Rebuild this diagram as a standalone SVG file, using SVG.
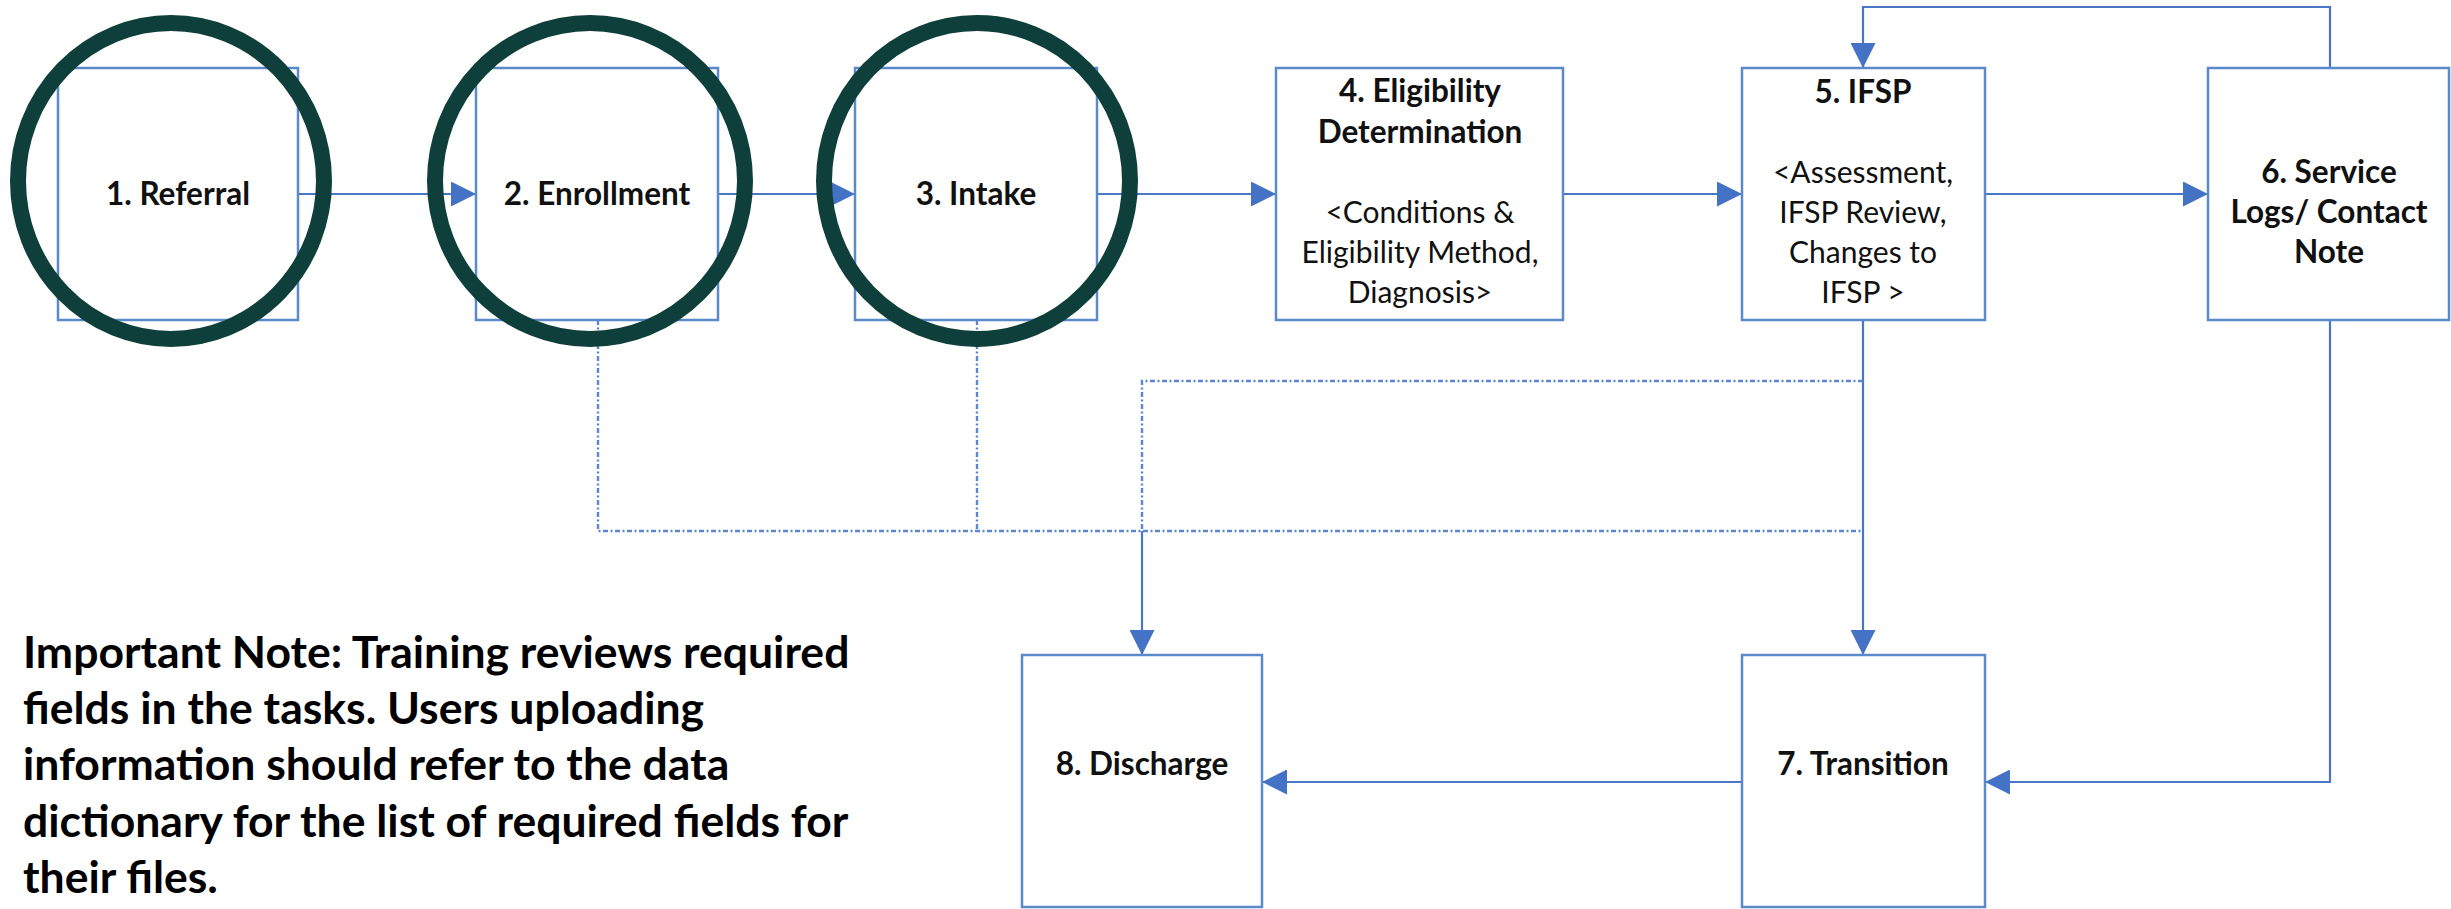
<svg xmlns="http://www.w3.org/2000/svg" width="2451" height="909" viewBox="0 0 2451 909">
<style>
.box{fill:#fff;stroke:#5B8ACB;stroke-width:2.5}
.t{font-family:Lato,"Open Sans","Liberation Sans",sans-serif;font-size:30px;fill:#111;text-anchor:middle}
.b{font-weight:bold;font-size:31.5px}
.con{fill:none;stroke:#4A76C6;stroke-width:2.2}
.dot{fill:none;stroke:#5B86CF;stroke-width:2.4;stroke-dasharray:5 2.5 2 2.5}
.ring{fill:none;stroke:#0F3F3A;stroke-width:16}
.note{font-family:Lato,"Open Sans","Liberation Sans",sans-serif;font-size:44.5px;font-weight:bold;fill:#000}
</style>
<defs>
<marker id="ah" markerUnits="userSpaceOnUse" markerWidth="25" markerHeight="25" refX="25" refY="12.5" orient="auto" viewBox="0 0 25 25">
<path d="M0,0 L25,12.5 L0,25 z" fill="#4472C4"/>
</marker>
</defs>
<rect width="2451" height="909" fill="#fff"/>
<g id="connectors">
<path class="con" d="M298,194 H476" marker-end="url(#ah)"/>
<path class="con" d="M718,194 H855" marker-end="url(#ah)"/>
<path class="con" d="M1097,194 H1276" marker-end="url(#ah)"/>
<path class="con" d="M1563,194 H1742" marker-end="url(#ah)"/>
<path class="con" d="M1985,194 H2208" marker-end="url(#ah)"/>
<path class="con" d="M2330,68 V7 H1863 V68" marker-end="url(#ah)"/>
<path class="con" d="M1863,320 V655" marker-end="url(#ah)"/>
<path class="con" d="M2330,320 V782 H1985" marker-end="url(#ah)"/>
<path class="con" d="M1742,782 H1262" marker-end="url(#ah)"/>
<path class="dot" d="M598,320 V531 H1863"/>
<path class="dot" d="M977,320 V531"/>
<path class="dot" d="M1863,381 H1142 V531"/>
<path class="con" d="M1142,531 V655" marker-end="url(#ah)"/>
</g>
<g id="n1">
<rect class="box" x="58" y="68" width="240" height="252"/>
<text class="t b" x="178" y="205">1. Referral</text>
</g>
<g id="n2">
<rect class="box" x="476" y="68" width="242" height="252"/>
<text class="t b" x="597" y="205">2. Enrollment</text>
</g>
<g id="n3">
<rect class="box" x="855" y="68" width="242" height="252"/>
<text class="t b" x="976" y="205">3. Intake</text>
</g>
<g id="n4">
<rect class="box" x="1276" y="68" width="287" height="252"/>
<text class="t b" x="1420" y="102">4. Eligibility</text>
<text class="t b" x="1420" y="143">Determination</text>
<text class="t" x="1420" y="223">&lt;Conditions &amp;</text>
<text class="t" x="1420" y="263">Eligibility Method,</text>
<text class="t" x="1420" y="303">Diagnosis&gt;</text>
</g>
<g id="n5">
<rect class="box" x="1742" y="68" width="243" height="252"/>
<text class="t b" x="1863" y="103">5. IFSP</text>
<text class="t" x="1863" y="183">&lt;Assessment,</text>
<text class="t" x="1863" y="223">IFSP Review,</text>
<text class="t" x="1863" y="263">Changes to</text>
<text class="t" x="1863" y="303">IFSP &gt;</text>
</g>
<g id="n6">
<rect class="box" x="2208" y="68" width="241" height="252"/>
<text class="t b" x="2329" y="183">6. Service</text>
<text class="t b" x="2329" y="223">Logs/ Contact</text>
<text class="t b" x="2329" y="263">Note</text>
</g>
<g id="n7">
<rect class="box" x="1742" y="655" width="243" height="252"/>
<text class="t b" x="1863" y="775">7. Transition</text>
</g>
<g id="n8">
<rect class="box" x="1022" y="655" width="240" height="252"/>
<text class="t b" x="1142" y="775">8. Discharge</text>
</g>
<g id="highlights">
<ellipse class="ring" cx="171" cy="181" rx="153" ry="158"/>
<ellipse class="ring" cx="590" cy="181" rx="155" ry="158"/>
<ellipse class="ring" cx="977" cy="181" rx="153" ry="158"/>
</g>
<g id="note">
<text class="note" x="23" y="668">Important Note: Training reviews required</text>
<text class="note" x="23" y="724">fields in the tasks. Users uploading</text>
<text class="note" x="23" y="780">information should refer to the data</text>
<text class="note" x="23" y="837">dictionary for the list of required fields for</text>
<text class="note" x="23" y="893">their files.</text>
</g>
</svg>
